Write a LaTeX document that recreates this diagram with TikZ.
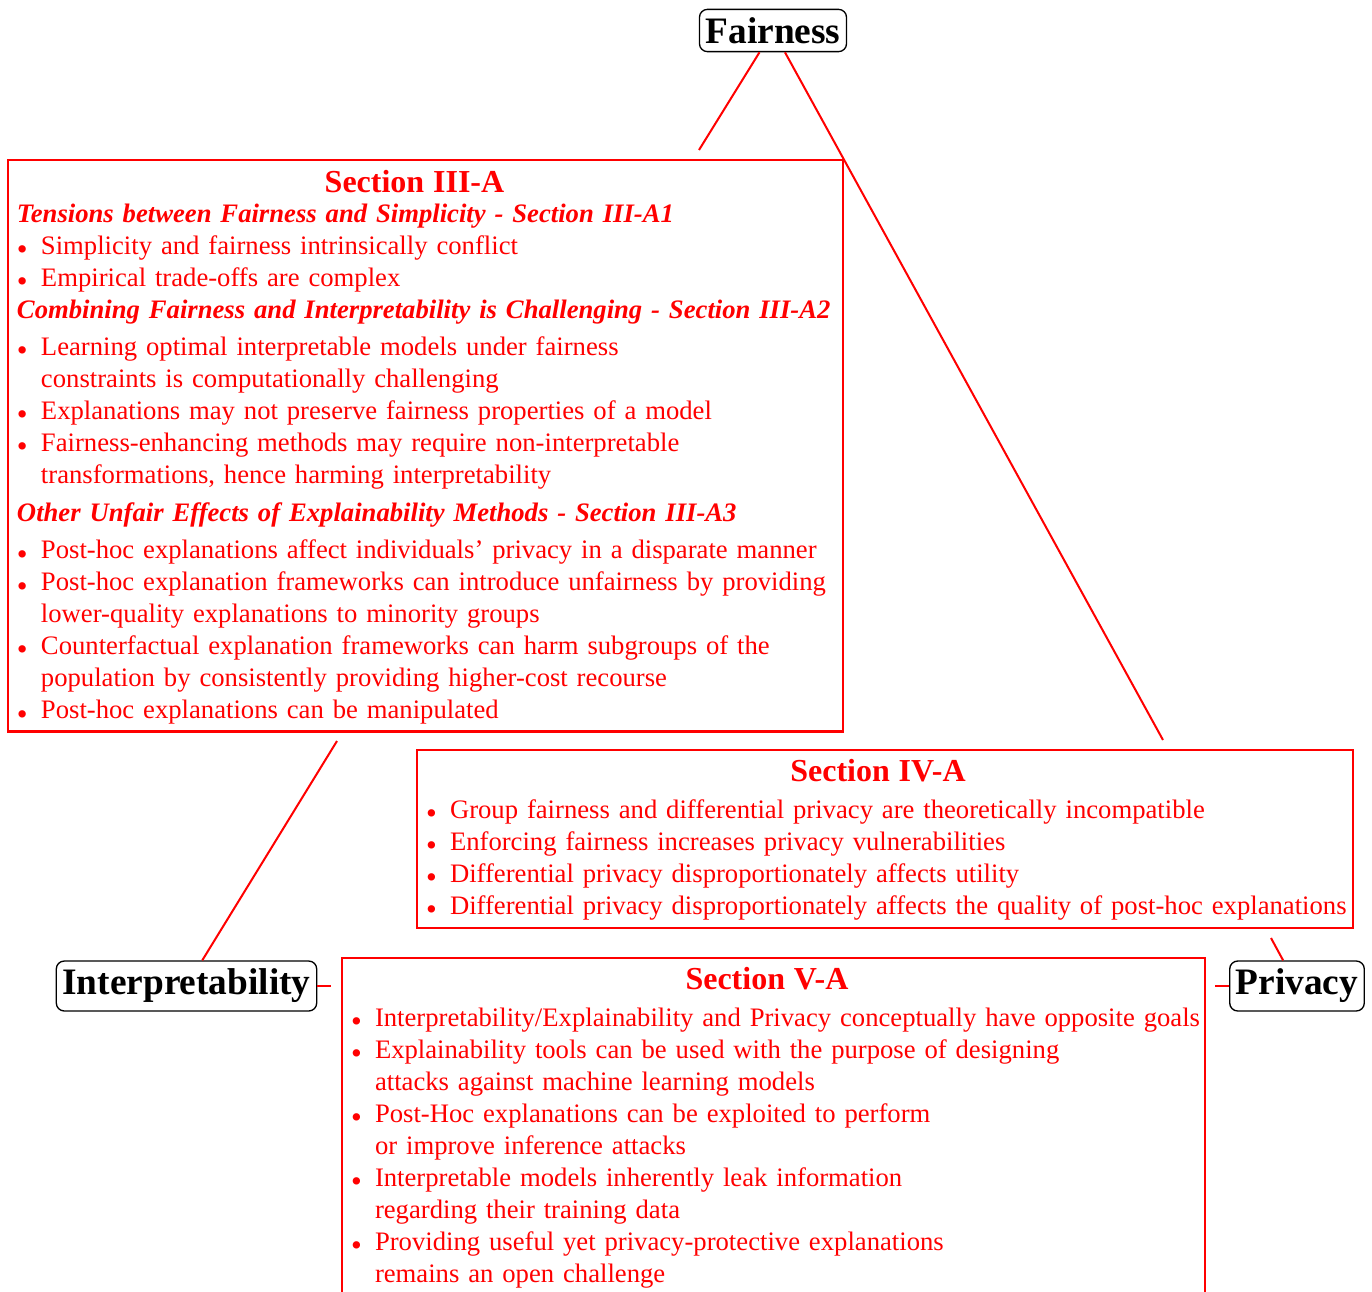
\documentclass[tikz,border=0pt]{standalone}
\usepackage{fontspec}
\usepackage{graphicx}
\setmainfont{Liberation Serif}
\newcommand{\bul}{\raisebox{-2.2pt}{\scalebox{1.15}{\textbullet}}}
\newcommand{\bl}[1]{\mbox{\makebox[9pt][l]{\bul}#1}}
\newcommand{\cl}[1]{\mbox{\hspace*{9pt}#1}}
\newcommand{\sh}[1]{\mbox{\bfseries\itshape #1}}
\newcommand{\ttl}[3]{\makebox[#1][c]{\large\bfseries #2\hspace*{#3}}}
\tikzset{
  sec/.style={draw=red, text=red, align=left, inner xsep=3.375pt, inner ysep=0pt,
    anchor=north west, outer sep=0pt, font=\fontsize{10}{12}\selectfont},
  topic/.style={draw=black, rounded corners=3pt, line width=0.5pt,
    font=\fontsize{14}{17}\selectfont\bfseries, inner xsep=2.3pt, inner ysep=3pt},
  link/.style={draw=red, line width=0.75pt}
}
\begin{document}
\begin{tikzpicture}[x=0.375pt,y=-0.375pt]
\useasboundingbox (0,0) rectangle (1372,1292);
% topic nodes
\node[topic] (fair) at (773,30.5) {Fairness};
\node[topic] (interp) at (186.5,986) {Interpretability};
\node[topic] (priv) at (1297,986) {Privacy};
% section boxes
\node[sec, line width=1.1pt, text width=306.375pt] (s3a) at (8,160) {%
\rule{0pt}{12pt}\ttl{306.375pt}{Section III-A}{8.25pt}\\[-0.75pt]
\sh{Tensions between Fairness and Simplicity - Section III-A1}\\
\bl{Simplicity and fairness intrinsically conflict}\\
\bl{Empirical trade-offs are complex}\\
\sh{Combining Fairness and Interpretability is Challenging - Section III-A2}\\[1.9pt]
\bl{Learning optimal interpretable models under fairness}\\
\cl{constraints is computationally challenging}\\
\bl{Explanations may not preserve fairness properties of a model}\\
\bl{Fairness-enhancing methods may require non-interpretable}\\
\cl{transformations, hence harming interpretability}\\[2.25pt]
\sh{Other Unfair Effects of Explainability Methods - Section III-A3}\\[1.9pt]
\bl{Post-hoc explanations affect individuals’ privacy in a disparate manner}\\
\bl{Post-hoc explanation frameworks can introduce unfairness by providing}\\
\cl{lower-quality explanations to minority groups}\\
\bl{Counterfactual explanation frameworks can harm subgroups of the}\\
\cl{population by consistently providing higher-cost recourse}\\
\bl{Post-hoc explanations can be manipulated}\rule[-4.9pt]{0pt}{0pt}};
\node[sec, line width=0.75pt, text width=344.25pt] (s4a) at (417,750) {%
\rule{0pt}{11.625pt}\ttl{344.25pt}{Section IV-A}{5.25pt}\\[1.875pt]
\bl{Group fairness and differential privacy are theoretically incompatible}\\
\bl{Enforcing fairness increases privacy vulnerabilities}\\
\bl{Differential privacy disproportionately affects utility}\\
\bl{Differential privacy disproportionately affects the quality of post-hoc explanations}\rule[-5.25pt]{0pt}{0pt}};
\node[sec, line width=1.1pt, text width=316.875pt] (s5a) at (342,958) {%
\rule{0pt}{11.625pt}\ttl{316.875pt}{Section V-A}{4.9pt}\\[1.875pt]
\bl{Interpretability/Explainability and Privacy conceptually have opposite goals}\\
\bl{Explainability tools can be used with the purpose of designing}\\
\cl{attacks against machine learning models}\\
\bl{Post-Hoc explanations can be exploited to perform}\\
\cl{or improve inference attacks}\\
\bl{Interpretable models inherently leak information}\\
\cl{regarding their training data}\\
\bl{Providing useful yet privacy-protective explanations}\\
\cl{remains an open challenge}\rule[-9pt]{0pt}{0pt}};
% connector ends
\coordinate (e1) at (699,150);
\coordinate (e2) at (1163,740);
\coordinate (e3) at (337,741);
\coordinate (e4) at (1271,938);
\coordinate (e5) at (331,986);
\coordinate (e6) at (1215,986);
\draw[link] (fair) -- (e1);
\draw[link] (fair) -- (e2);
\draw[link] (e3) -- (interp);
\draw[link] (e4) -- (priv);
\draw[link] (interp) -- (e5);
\draw[link] (priv) -- (e6);
\end{tikzpicture}
\end{document}
